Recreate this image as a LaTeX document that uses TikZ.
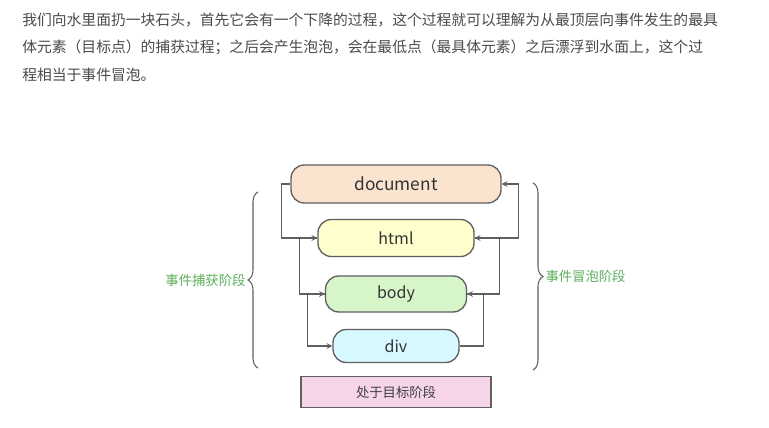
\documentclass[tikz,border=0pt]{standalone}
\usepackage{fontspec}
\setmainfont{Noto Sans CJK SC}
\usetikzlibrary{positioning, arrows, decorations.pathreplacing}
\definecolor{docfill}{RGB}{250,228,208}
\definecolor{htmlfill}{RGB}{255,255,206}
\definecolor{bodyfill}{RGB}{214,245,200}
\definecolor{divfill}{RGB}{216,248,255}
\definecolor{targetfill}{RGB}{246,212,234}
\definecolor{linegray}{RGB}{95,95,95}
\definecolor{phasegreen}{RGB}{92,174,92}
\definecolor{textgray}{RGB}{75,75,75}
\tikzset{
    level/.style={ % Rounded boxes for the DOM levels
        draw=linegray,
        line width=1pt,
        rounded corners=10pt,
        inner sep=0pt,
        text=black!80,
        font=\fontsize{12}{14}\selectfont
    },
    stage/.style={ % Plain box for the target phase
        draw=linegray,
        line width=1pt,
        fill=targetfill,
        inner sep=0pt,
        text=black!75,
        font=\fontsize{10}{12}\selectfont
    },
    flow/.style={ % Sets the properties for each connector
        draw=linegray,
        line width=0.9pt,
        ->,>=stealth
    },
    bracket/.style={
        draw=linegray,
        line width=0.8pt,
        decorate,
        decoration={brace, amplitude=7.5pt}
    },
    phase/.style={text=phasegreen, font=\fontsize{10}{12}\selectfont, inner sep=0pt},
    para/.style={text=textgray, anchor=west, inner sep=0pt, font=\fontsize{11.1}{13}\selectfont},
}

\begin{document}
\begin{tikzpicture}[x=0.75pt, y=-0.75pt]
            \useasboundingbox[fill=white] (0,0) rectangle (769,428);
            % text above the diagram
            \node[para] (line1) at (22,20) {我们向水里面扔一块石头，首先它会有一个下降的过程，这个过程就可以理解为从最顶层向事件发生的最具};
            \node[para] (line2) at (22,47) {体元素（目标点）的捕获过程；之后会产生泡泡，会在最低点（最具体元素）之后漂浮到水面上，这个过};
            \node[para] (line3) at (22,75) {程相当于事件冒泡。};
            % the levels
            \node[level, fill=docfill, minimum width=157.5pt, minimum height=28.5pt,
                  font=\fontsize{13}{15}\selectfont]                          (doc)    at (396,184) {document};
            \node[level, fill=htmlfill, minimum width=117pt, minimum height=27.75pt,
                  below of=doc, node distance=40.5pt]                         (html)   {html};
            \node[level, fill=bodyfill, minimum width=105.75pt, minimum height=27pt,
                  below of=html, node distance=42pt]                          (body)   {body};
            \node[level, fill=divfill, minimum width=94.5pt, minimum height=24.75pt,
                  below of=body, node distance=39pt]                          (div)    {div};
            \node[stage, minimum width=142.5pt, minimum height=23.25pt,
                  below of=div, node distance=34.5pt]                         (target) {处于目标阶段};
            % capturing
            \draw[flow] (doc.west)  -- ++(-9,0)  |- (html.west);
            \draw[flow] (html.west) -- ++(-18,0) |- (body.west);
            \draw[flow] (body.west) -- ++(-17,0) |- (div.west);
            % bubbling
            \draw[flow] (div.east)  -- ++(24,0)  |- (body.east);
            \draw[flow] (body.east) -- ++(32,0)  |- (html.east);
            \draw[flow] (html.east) -- ++(44,0)  |- (doc.east);
            % phases
            \coordinate (capBot) at (258,368);
            \coordinate (capTop) at (258,192);
            \coordinate (bubTop) at (533,183);
            \coordinate (bubBot) at (533,370);
            \draw[bracket] (capBot) -- (capTop) node[phase, midway, left=9pt]  (capture) {事件捕获阶段};
            \draw[bracket] (bubTop) -- (bubBot) node[phase, midway, right=9pt] (bubble)  {事件冒泡阶段};
\end{tikzpicture}
\end{document}
